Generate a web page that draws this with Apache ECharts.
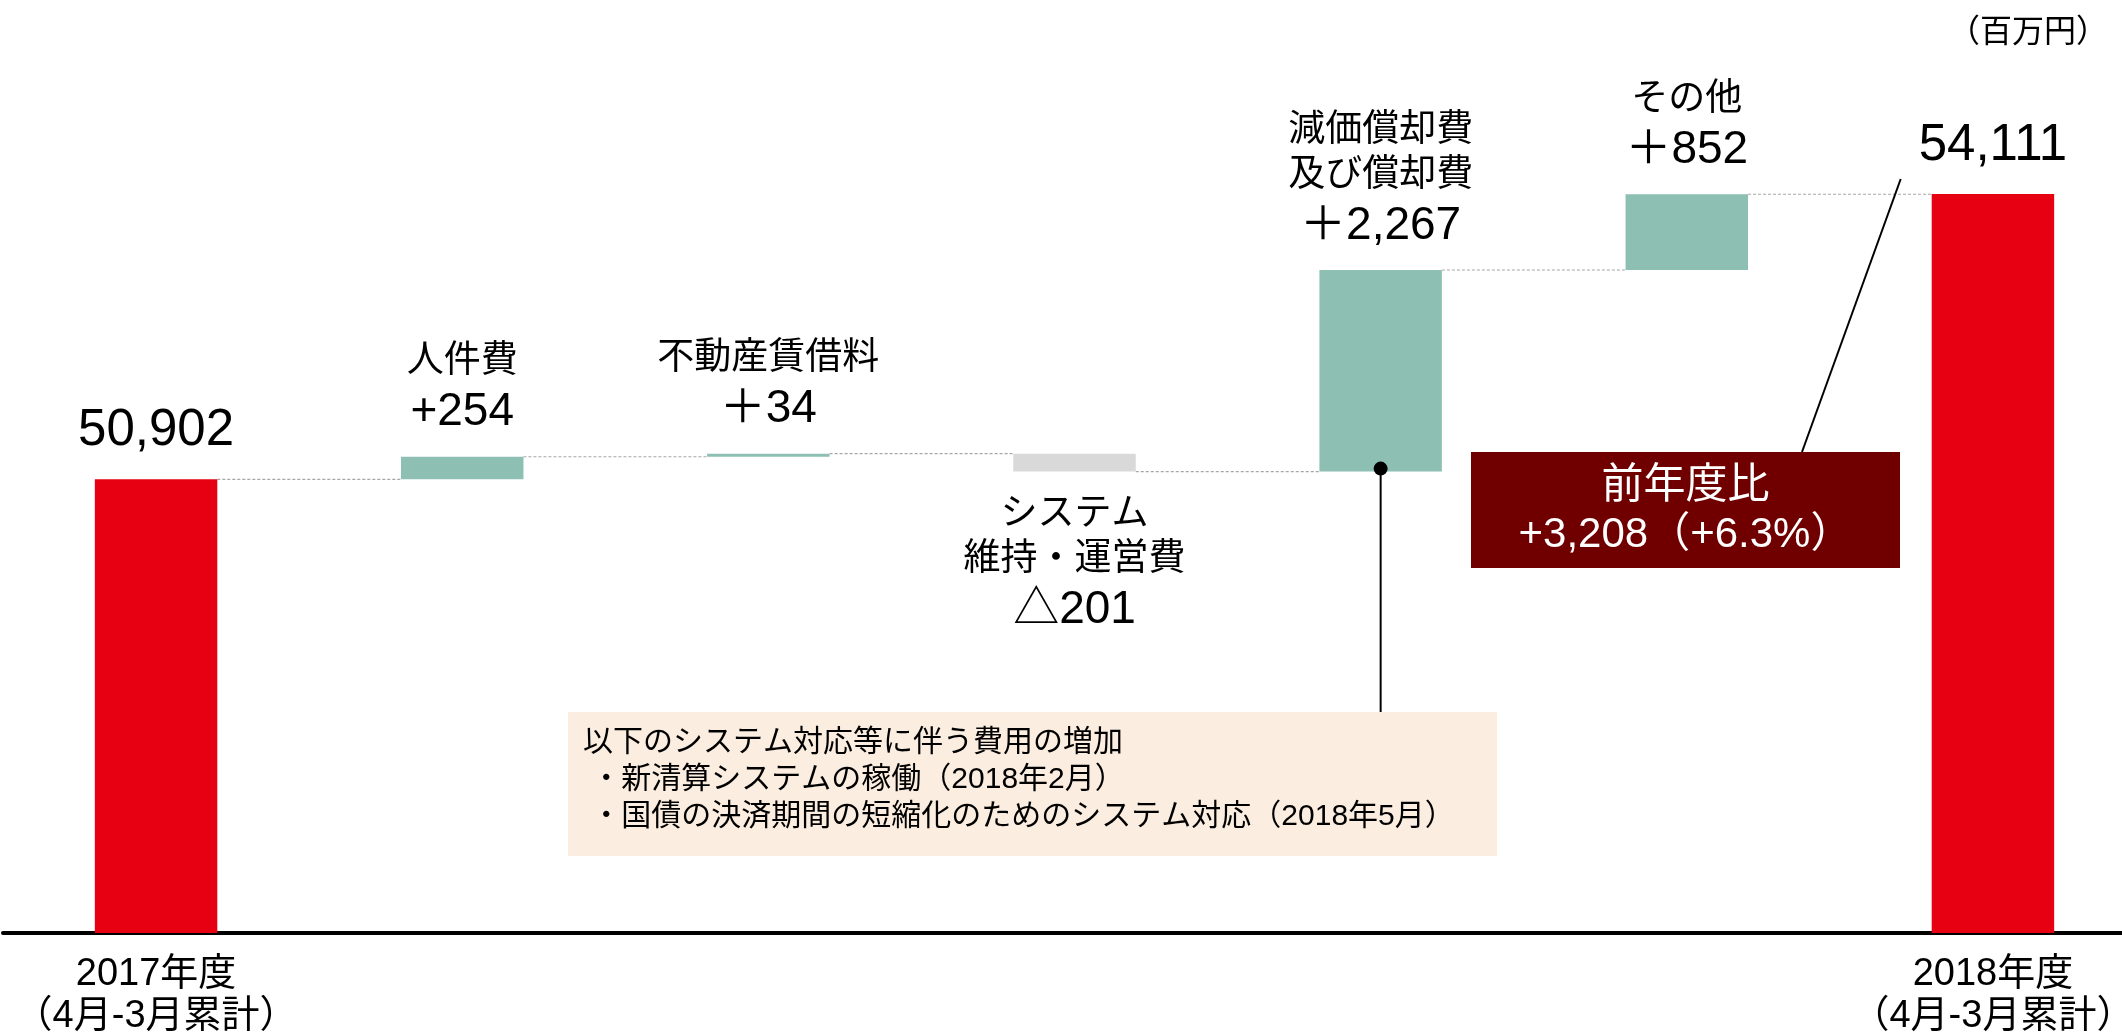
<!DOCTYPE html>
<html>
<head>
<meta charset="utf-8">
<script src="https://cdn.jsdelivr.net/npm/echarts@6/dist/echarts.min.js"></script>
<style>
  html, body { margin: 0; padding: 0; background: #fff; }
  #chart { width: 2122px; height: 1035px; }
</style>
</head>
<body>
<div id="chart"></div>
<script>
// 前年度比の費用増減（百万円）
const categories = ['2017年度', '人件費', '不動産賃借料', 'システム\n維持・運営費', '減価償却費\n及び償却費', 'その他', '2018年度']
const totals = [50902, null, null, null, null, null, 54111]
const changes = [null, 254, 34, -201, 2267, 852, null]
const changeSigns = ['', '+', '＋', '△', '＋', '＋', '']
const periodNote = '（4月-3月累計）'
const unitText = '（百万円）'
const summaryLines = ['前年度比', '+3,208（+6.3%）']
const noteLines = [
  '以下のシステム対応等に伴う費用の増加',
  ' ・新清算システムの稼働（2018年2月）',
  ' ・国債の決済期間の短縮化のためのシステム対応（2018年5月）'
]

const font = "'Liberation Sans', 'Noto Sans CJK JP', sans-serif"
const RED = '#e60012'
const TEAL = '#8dbfb2'
const GREY = '#d9d9d9'

// 透明な土台 + 増減分を積み上げる
const base = []
const delta = []
const levels = []
let running = 0
changes.forEach((c, i) => {
  if (c === null) {
    running = totals[i]
    base.push('-')
    delta.push('-')
  } else {
    base.push(c >= 0 ? running : running + c)
    delta.push(Math.abs(c))
    running += c
  }
  levels.push(running)
})
const connectors = levels.slice(0, -1).map((v, i) => [i, v])

const fmt = v => v.toLocaleString('en-US')

const option = {
  animation: false,
  backgroundColor: '#fff',
  grid: {
    left: 3,
    right: -24,
    top: 26,
    bottom: 102,
    containLabel: false,
    outerBoundsMode: 'none'
  },
  xAxis: {
    type: 'category',
    data: categories,
    axisLine: { lineStyle: { color: '#000', width: 4 } },
    axisTick: { show: false },
    splitLine: { show: false },
    axisLabel: {
      interval: 0,
      margin: 21,
      color: '#000',
      fontFamily: font,
      fontSize: 38,
      lineHeight: 42,
      formatter: (v, i) => (i === 0 || i === categories.length - 1) ? v + '\n' + periodNote : ''
    }
  },
  yAxis: {
    type: 'value',
    min: 45800,
    max: 56000,
    show: false,
    splitLine: { show: false }
  },
  series: [{
    name: 'base',
    type: 'bar',
    stack: 'w',
    barWidth: '40%',
    itemStyle: { color: 'transparent' },
    emphasis: { disabled: true },
    data: base
  }, {
    name: 'change',
    type: 'bar',
    stack: 'w',
    barWidth: '40%',
    data: delta.map((v, i) => v === '-' ? '-' : {
      value: v,
      itemStyle: { color: changes[i] < 0 ? GREY : TEAL },
      label: {
        position: changes[i] < 0 ? 'bottom' : 'top',
        distance: changes[i] < 0 ? 21 : 16
      }
    }),
    label: {
      show: true,
      color: '#000',
      fontFamily: font,
      formatter: p => '{n|' + p.name + '}\n{v|' + changeSigns[p.dataIndex] + fmt(Math.abs(changes[p.dataIndex])) + '}',
      rich: {
        n: { fontSize: 37, lineHeight: 45, fontFamily: font, color: '#000' },
        v: { fontSize: 46, lineHeight: 56, fontFamily: font, color: '#000' }
      }
    }
  }, {
    name: 'total',
    type: 'bar',
    stack: 'w',
    barWidth: '40%',
    itemStyle: { color: RED },
    label: {
      show: true,
      position: 'top',
      distance: 19,
      color: '#000',
      fontFamily: font,
      fontSize: 51,
      lineHeight: 58,
      formatter: p => fmt(p.value)
    },
    data: totals.map(v => v === null ? '-' : v)
  }, {
    // 棒の間をつなぐ点線
    name: 'connector',
    type: 'custom',
    silent: true,
    z: 1,
    encode: { x: 0, y: 1 },
    renderItem: (params, api) => {
      const i = api.value(0)
      const lv = api.value(1)
      const a = api.coord([i, lv])
      const b = api.coord([i + 1, lv])
      const half = api.size([1, 0])[0] * 0.2
      return {
        type: 'line',
        shape: { x1: a[0] + half, y1: a[1], x2: b[0] - half, y2: a[1] },
        style: { stroke: '#a6a6a6', lineWidth: 1.2, lineDash: [3, 2] }
      }
    },
    data: connectors
  }]
}

const chart = echarts.init(document.getElementById('chart'))
chart.setOption(option)

// 注記（位置は軸から算出）
const p0 = chart.convertToPixel({ gridIndex: 0 }, [0, 0])
const p1 = chart.convertToPixel({ gridIndex: 0 }, [1, 0])
const halfBar = (p1[0] - p0[0]) * 0.2
const dep = chart.convertToPixel({ gridIndex: 0 }, [4, base[4]])
const fin = chart.convertToPixel({ gridIndex: 0 }, [6, totals[6]])

const noteBox = { x: 568, y: 712, w: 929, h: 144 }
const sumBox = { x: 1471, y: 452, w: 429, h: 116 }

chart.setOption({
  graphic: [{
    type: 'text',
    x: 2108,
    y: 33,
    style: { text: unitText, font: '32px ' + font, fill: '#000', align: 'right', verticalAlign: 'middle' }
  }, {
    type: 'rect',
    shape: { x: noteBox.x, y: noteBox.y, width: noteBox.w, height: noteBox.h },
    style: { fill: '#fbeee0' },
    z: 5
  }, {
    type: 'text',
    x: noteBox.x + 15,
    y: noteBox.y + 12,
    z: 6,
    style: { text: noteLines.join('\n'), font: '30px ' + font, lineHeight: 37, fill: '#000' }
  }, {
    type: 'line',
    shape: { x1: dep[0], y1: dep[1] - 3, x2: dep[0], y2: noteBox.y },
    style: { stroke: '#000', lineWidth: 2 },
    z: 6
  }, {
    type: 'circle',
    shape: { cx: dep[0], cy: dep[1] - 3, r: 7 },
    style: { fill: '#000' },
    z: 6
  }, {
    type: 'rect',
    shape: { x: sumBox.x, y: sumBox.y, width: sumBox.w, height: sumBox.h },
    style: { fill: '#700000' },
    z: 5
  }, {
    type: 'text',
    x: sumBox.x + sumBox.w / 2,
    y: sumBox.y + 34,
    z: 6,
    style: { text: summaryLines[0], font: '42px ' + font, fill: '#fff', align: 'center', verticalAlign: 'middle' }
  }, {
    type: 'text',
    x: sumBox.x + sumBox.w / 2,
    y: sumBox.y + 83,
    z: 6,
    style: { text: summaryLines[1], font: '42px ' + font, fill: '#fff', align: 'center', verticalAlign: 'middle' }
  }, {
    type: 'line',
    shape: { x1: fin[0] - halfBar - 31, y1: fin[1] - 15, x2: sumBox.x + 331, y2: sumBox.y },
    style: { stroke: '#000', lineWidth: 2 },
    z: 6
  }]
})
</script>
</body>
</html>
